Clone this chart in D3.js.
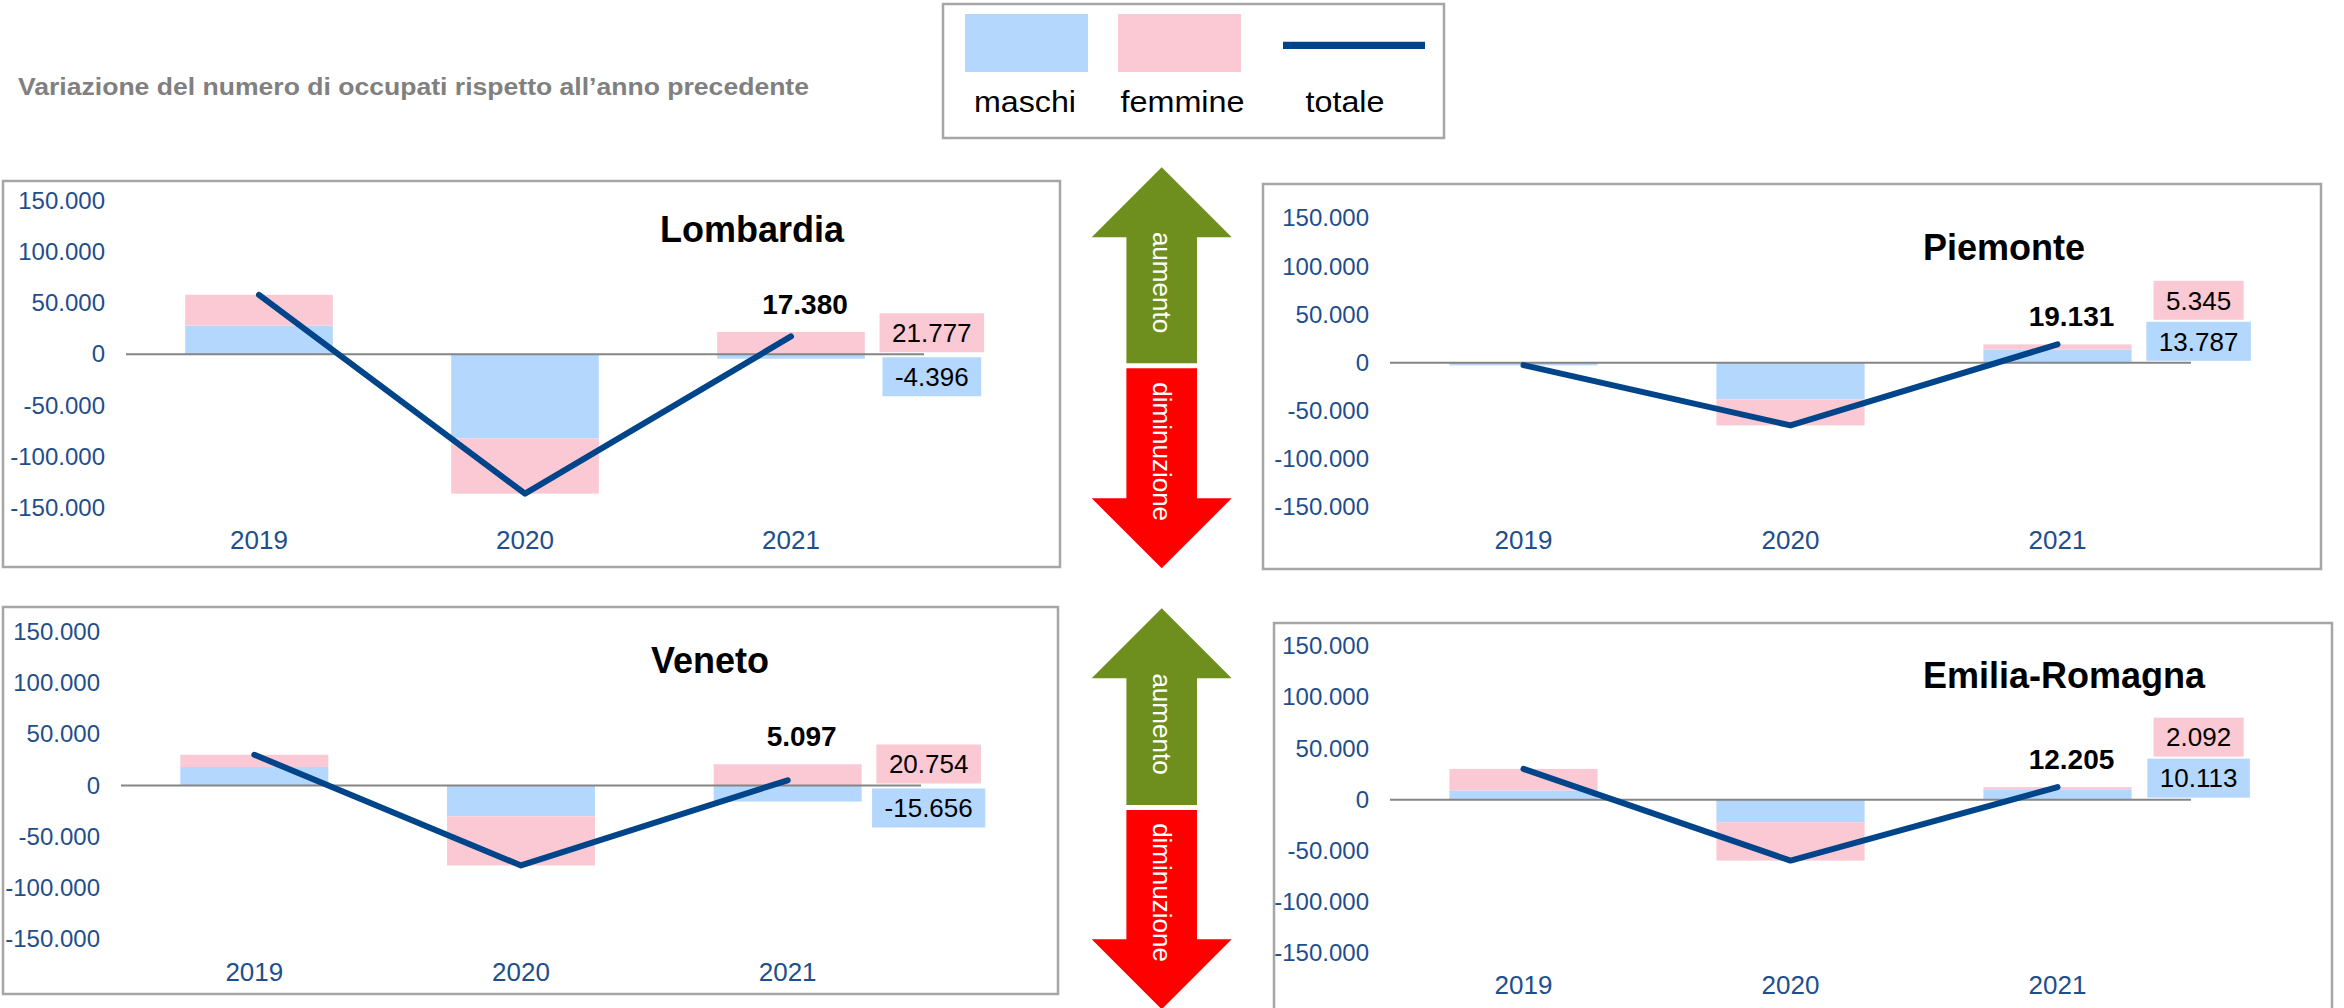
<!DOCTYPE html>
<html><head><meta charset="utf-8">
<script src="https://cdn.jsdelivr.net/npm/d3@7"></script>
<style>body{margin:0;background:#fff}svg{display:block}text{font-family:"Liberation Sans",Arial,sans-serif}</style>
</head><body><svg id="c" width="2344" height="1008"></svg>
<script>
// ---- data ----
const regions = ["Lombardia", "Piemonte", "Veneto", "Emilia-Romagna"];
const years = ["2019", "2020", "2021"];
const keys = ["maschi", "femmine"];
const maschi  = [[28000, -82000, -4396], [-2700, -38000, 13787], [18000, -30000, -15656], [9000, -22000, 10113]];
const femmine = [[30000, -54000, 21777], [300, -27000, 5345], [12000, -48000, 20754], [21000, -37500, 2092]];
const totale  = [[58000, -136000, 17380], [-2400, -65000, 19131], [30000, -78000, 5097], [30000, -59500, 12205]];
const yTicks = [-150000, -100000, -50000, 0, 50000, 100000, 150000];
const legendLabels = ["maschi", "femmine", "totale"];
const mainTitle = "Variazione del numero di occupati rispetto all\u2019anno precedente";
const arrowLabels = ["aumento", "diminuzione"];

// ---- style / layout ----
const C = {maschi: "#B4D7FE", femmine: "#FBC9D4", line: "#00448A", axis: "#1F4E8C", border: "#A6A6A6", zero: "#858585"};
const layout = [
  {box: [3, 181, 1057, 386],   yTop: 200.5, yBot: 508,   x0: 126,  x1: 924,  yearY: 540,   titleX: 660,  titleY: 242},
  {box: [1263, 184, 1058, 385], yTop: 218.3, yBot: 507.3, x0: 1390, x1: 2191, yearY: 539.3, titleX: 1923, titleY: 260},
  {box: [3, 607, 1055, 387],   yTop: 631.7, yBot: 939.3, x0: 121,  x1: 921,  yearY: 971.7, titleX: 651,  titleY: 673},
  {box: [1274, 623, 1058, 420], yTop: 646,   yBot: 953.3, x0: 1390, x1: 2191, yearY: 985,   titleX: 1923, titleY: 688}
];

const loc = d3.formatLocale({decimal: ",", thousands: ".", grouping: [3], currency: ["\u20ac", ""], minus: "-"});
const fmt = loc.format(",d");
const svg = d3.select("#c");

// main title
svg.append("text").attr("x", 18).attr("y", 95).attr("font-size", 23).attr("font-weight", "bold")
  .attr("textLength", 791).attr("lengthAdjust", "spacingAndGlyphs")
  .attr("fill", "#808080").text(mainTitle);

// legend
const lg = svg.append("g");
lg.append("rect").attr("x", 943).attr("y", 4).attr("width", 501).attr("height", 134)
  .attr("fill", "#fff").attr("stroke", C.border).attr("stroke-width", 2.5);
lg.append("rect").attr("x", 965).attr("y", 14).attr("width", 123).attr("height", 58).attr("fill", C.maschi);
lg.append("rect").attr("x", 1118).attr("y", 14).attr("width", 123).attr("height", 58).attr("fill", C.femmine);
lg.append("line").attr("x1", 1283).attr("x2", 1425).attr("y1", 45.3).attr("y2", 45.3)
  .attr("stroke", C.line).attr("stroke-width", 7.3);
const legendW = [102, 124, 79];
[1025, 1182.5, 1345].forEach((x, i) => lg.append("text").attr("x", x).attr("y", 112)
  .attr("text-anchor", "middle").attr("font-size", 29).attr("fill", "#000")
  .attr("textLength", legendW[i]).attr("lengthAdjust", "spacingAndGlyphs").text(legendLabels[i]));

// arrows
const ax = 1161.7, hw = 70, sw = 35.3;
function upArrow(tip, base, bottom) {
  return [[ax, tip], [ax + hw, base], [ax + sw, base], [ax + sw, bottom], [ax - sw, bottom], [ax - sw, base], [ax - hw, base]];
}
function downArrow(top, base, tip) {
  return [[ax - sw, top], [ax + sw, top], [ax + sw, base], [ax + hw, base], [ax, tip], [ax - hw, base], [ax - sw, base]];
}
const arrowSets = [
  {up: [167.3, 237.3, 363.3], down: [368.3, 498.3, 568.3], tUp: 282.5, tDown: 451.7},
  {up: [608.3, 678.3, 805], down: [810, 939.3, 1009.3], tUp: 724, tDown: 892.5}
];
arrowSets.forEach(a => {
  svg.append("polygon").attr("points", upArrow(...a.up).join(" ")).attr("fill", "#6E8F1D");
  svg.append("polygon").attr("points", downArrow(...a.down).join(" ")).attr("fill", "#FF0000");
  [[a.tUp, arrowLabels[0]], [a.tDown, arrowLabels[1]]].forEach(([cy, t]) =>
    svg.append("text").attr("transform", `translate(${ax},${cy}) rotate(90)`)
      .attr("text-anchor", "middle").attr("dy", "0.35em").attr("font-size", 26).attr("fill", "#fff").text(t));
});

// panels
regions.forEach((name, r) => {
  const L = layout[r];
  const g = svg.append("g");
  g.append("rect").attr("x", L.box[0]).attr("y", L.box[1]).attr("width", L.box[2]).attr("height", L.box[3])
    .attr("fill", "#fff").attr("stroke", C.border).attr("stroke-width", 2.5);

  const x = d3.scaleBand().domain(years).range([L.x0, L.x1]).paddingInner(0.445).paddingOuter(0.2225);
  const y = d3.scaleLinear().domain([-150000, 150000]).range([L.yBot, L.yTop]);

  const rows = years.map((yr, i) => ({year: yr, maschi: maschi[r][i], femmine: femmine[r][i]}));
  const series = d3.stack().keys(keys).offset(d3.stackOffsetDiverging)(rows);

  // bars
  series.forEach(s => {
    g.append("g").selectAll("rect").data(s).join("rect")
      .attr("x", d => x(d.data.year)).attr("width", x.bandwidth())
      .attr("y", d => y(Math.max(d[0], d[1])))
      .attr("height", d => Math.abs(y(d[0]) - y(d[1])))
      .attr("fill", C[s.key]);
  });

  // y axis
  const ya = g.append("g").attr("transform", `translate(${L.x0},0)`)
    .call(d3.axisLeft(y).tickValues(yTicks).tickFormat(fmt).tickSize(0).tickPadding(21));
  ya.select(".domain").remove();
  ya.selectAll("text").attr("font-size", 24).attr("fill", C.axis).attr("font-family", null);

  // x axis labels
  const xa = g.append("g").attr("transform", `translate(0,${L.yearY - 9})`)
    .call(d3.axisBottom(x).tickSize(0).tickPadding(0));
  xa.select(".domain").remove();
  xa.selectAll("text").attr("font-size", 26).attr("fill", C.axis).attr("font-family", null);

  // zero line
  g.append("line").attr("x1", L.x0).attr("x2", L.x1).attr("y1", y(0)).attr("y2", y(0))
    .attr("stroke", C.zero).attr("stroke-width", 2);

  // totale line
  const line = d3.line().x((d, i) => x(years[i]) + x.bandwidth() / 2).y(d => y(d));
  g.append("path").datum(totale[r]).attr("d", line).attr("fill", "none")
    .attr("stroke", C.line).attr("stroke-width", 6).attr("stroke-linecap", "round").attr("stroke-linejoin", "round");

  // title
  g.append("text").attr("x", L.titleX).attr("y", L.titleY).attr("font-size", 36).attr("font-weight", "bold")
    .attr("fill", "#000").text(name);

  // totale label for last year
  const last = years.length - 1, ly = years[last];
  const stackTop = y(Math.max(0, d3.max(series, s => Math.max(s[last][0], s[last][1]))));
  g.append("text").attr("x", x(ly) + x.bandwidth() / 2 + 14).attr("y", stackTop - 18)
    .attr("text-anchor", "middle").attr("font-size", 28).attr("font-weight", "bold").attr("fill", "#000")
    .text(fmt(totale[r][last]));

  // data label boxes for last year
  const cx = x(ly) + x.bandwidth() + 67, bh = 39;
  let posBottom = y(0) - 2, negTop = y(0) + 3;
  keys.forEach(k => {
    const v = k === "maschi" ? maschi[r][last] : femmine[r][last];
    let top;
    if (v >= 0) { top = posBottom - bh; posBottom = top - 2; }
    else { top = negTop; negTop = top + bh + 2; }
    const lgG = g.append("g");
    const rect = lgG.append("rect").attr("fill", C[k]);
    const t = lgG.append("text").attr("x", cx).attr("y", top + bh / 2 + 9.3).attr("text-anchor", "middle")
      .attr("font-size", 26).attr("fill", "#000").text(fmt(v));
    const w = t.node().getComputedTextLength() + 25;
    rect.attr("x", cx - w / 2).attr("y", top).attr("width", w).attr("height", bh);
  });
});
</script></body></html>
